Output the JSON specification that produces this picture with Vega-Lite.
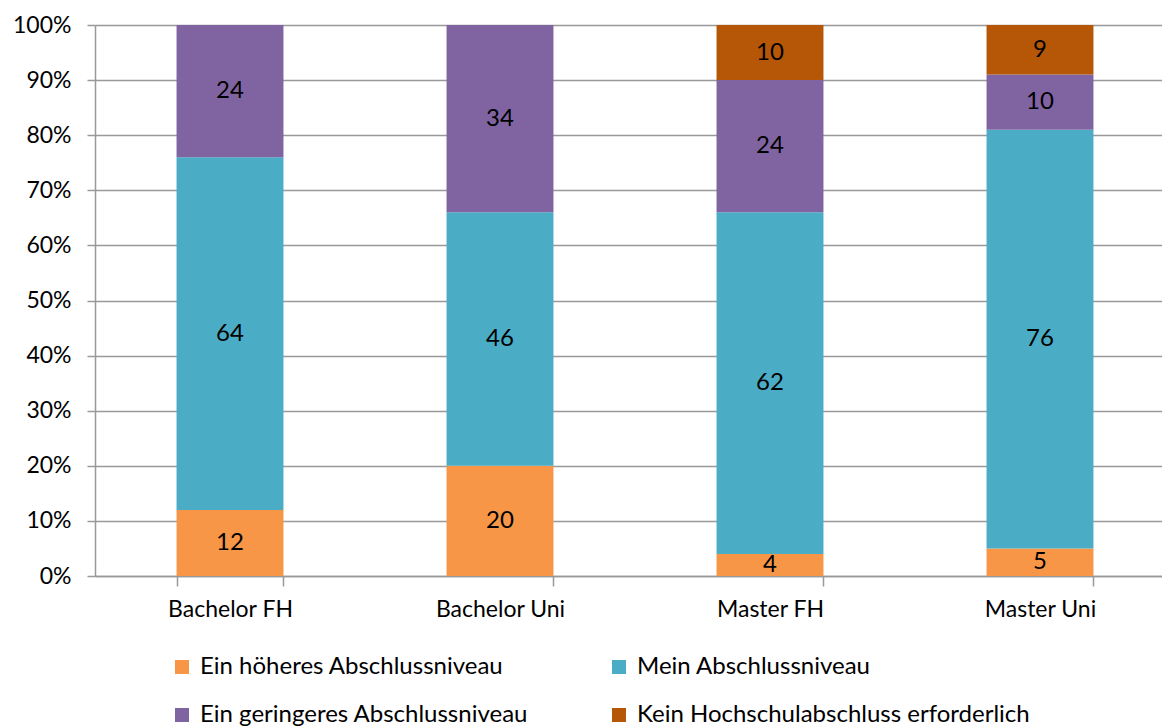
{
  "$schema": "https://vega.github.io/schema/vega-lite/v6.json",
  "autosize": {"type": "none"},
  "padding": {"left": 95, "top": 25, "right": 0, "bottom": 152},
  "width": 1080,
  "height": 551,
  "background": "white",
  "config": {
    "font": "Lato",
    "view": {"stroke": null},
    "axis": {"labelFont": "Lato", "labelFontSize": 23, "labelColor": "#000000"}
  },
  "data": {
    "values": [
      {"abschluss": "Bachelor FH", "kategorie": "Ein höheres Abschlussniveau", "ord": 1, "wert": 12},
      {"abschluss": "Bachelor FH", "kategorie": "Mein Abschlussniveau", "ord": 2, "wert": 64},
      {"abschluss": "Bachelor FH", "kategorie": "Ein geringeres Abschlussniveau", "ord": 3, "wert": 24},
      {"abschluss": "Bachelor Uni", "kategorie": "Ein höheres Abschlussniveau", "ord": 1, "wert": 20},
      {"abschluss": "Bachelor Uni", "kategorie": "Mein Abschlussniveau", "ord": 2, "wert": 46},
      {"abschluss": "Bachelor Uni", "kategorie": "Ein geringeres Abschlussniveau", "ord": 3, "wert": 34},
      {"abschluss": "Master FH", "kategorie": "Ein höheres Abschlussniveau", "ord": 1, "wert": 4},
      {"abschluss": "Master FH", "kategorie": "Mein Abschlussniveau", "ord": 2, "wert": 62},
      {"abschluss": "Master FH", "kategorie": "Ein geringeres Abschlussniveau", "ord": 3, "wert": 24},
      {"abschluss": "Master FH", "kategorie": "Kein Hochschulabschluss erforderlich", "ord": 4, "wert": 10},
      {"abschluss": "Master Uni", "kategorie": "Ein höheres Abschlussniveau", "ord": 1, "wert": 5},
      {"abschluss": "Master Uni", "kategorie": "Mein Abschlussniveau", "ord": 2, "wert": 76},
      {"abschluss": "Master Uni", "kategorie": "Ein geringeres Abschlussniveau", "ord": 3, "wert": 10},
      {"abschluss": "Master Uni", "kategorie": "Kein Hochschulabschluss erforderlich", "ord": 4, "wert": 9}
    ]
  },
  "encoding": {
    "x": {
      "field": "abschluss", "type": "nominal", "sort": null,
      "scale": {"paddingInner": 0.604, "paddingOuter": 0.302},
      "axis": {
        "title": null, "labelAngle": 0, "labelPadding": 12,
        "domainColor": "#999999", "domainWidth": 1.5,
        "tickColor": "#999999", "tickWidth": 1.5, "tickSize": 10, "tickBand": "extent",
        "grid": false
      }
    },
    "y": {
      "field": "wert", "type": "quantitative", "stack": "zero",
      "scale": {"domain": [0, 100], "nice": false},
      "axis": {
        "title": null, "values": [0,10,20,30,40,50,60,70,80,90,100],
        "labelExpr": "datum.value + '%'", "labelPadding": 16,
        "domainColor": "#999999", "domainWidth": 1.5,
        "tickColor": "#999999", "tickWidth": 1.5, "tickSize": 8,
        "gridColor": "#999999", "gridWidth": 1.5
      }
    },
    "order": {"field": "ord", "type": "quantitative"}
  },
  "layer": [
    {
      "mark": {"type": "bar"},
      "encoding": {
        "color": {
          "field": "kategorie", "type": "nominal",
          "scale": {
            "domain": ["Ein höheres Abschlussniveau", "Mein Abschlussniveau", "Ein geringeres Abschlussniveau", "Kein Hochschulabschluss erforderlich"],
            "range": ["#F79646", "#4BACC6", "#8064A2", "#B65708"]
          },
          "legend": {
            "title": null, "orient": "none", "legendX": 75, "legendY": 630,
            "columns": 2, "direction": "horizontal",
            "symbolType": "square", "symbolSize": 196, "symbolStrokeWidth": 0,
            "labelFont": "Lato", "labelFontSize": 24, "labelColor": "#000000",
            "labelOffset": 6, "columnPadding": 78, "rowPadding": 24, "labelLimit": 600
          }
        }
      }
    },
    {
      "mark": {"type": "text", "font": "Lato", "fontSize": 24, "color": "#000000", "baseline": "middle"},
      "encoding": {
        "y": {"field": "wert", "type": "quantitative", "stack": "zero", "bandPosition": 0.5},
        "text": {"field": "wert", "type": "quantitative"}
      }
    }
  ]
}
